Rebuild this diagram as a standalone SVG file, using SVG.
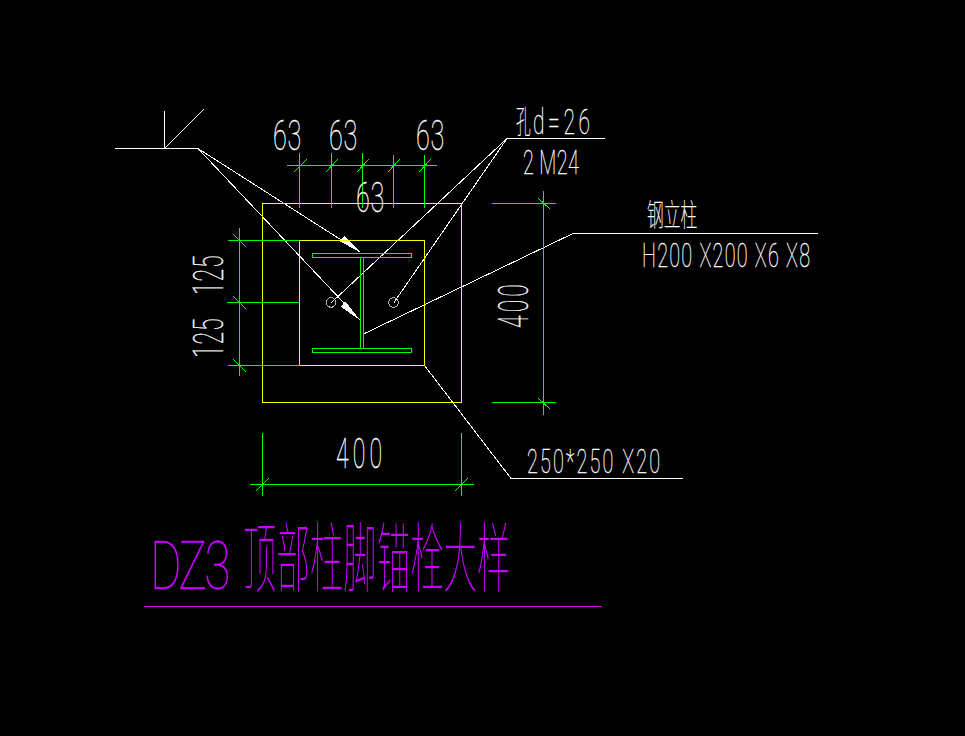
<svg xmlns="http://www.w3.org/2000/svg" width="965" height="736" viewBox="0 0 965 736">
<style>
path,rect,circle{shape-rendering:crispEdges}
.y{fill:none;stroke:#ffff00;stroke-width:1}
.g{fill:none;stroke:#00ff00;stroke-width:1}
.w{fill:none;stroke:#ffffff;stroke-width:1}
.h{fill:none;stroke:#b4b4b4;stroke-width:1}
.t{fill:#ffffff;stroke:#ffffff;stroke-width:.35;font-family:Roboto,"Liberation Sans",sans-serif;font-weight:100}
.c{fill:#ffffff;stroke:#ffffff;stroke-width:.3;font-family:"Noto Sans CJK SC",sans-serif;font-weight:100}
.p{fill:#c800ff;stroke:#c800ff;stroke-width:.3;font-family:Roboto,"Noto Sans CJK SC",sans-serif;font-weight:100}
.q{fill:#c800ff;font-family:"Noto Sans CJK SC",sans-serif;font-weight:100}
</style>
<rect width="965" height="736" fill="#000000"/>
<g id="connectors">
<path class="w" d="M115 148.500H198L360 252M198 148.500L360 320M164.500 148.500V111M164.500 148.500L204 109"/>
<path class="w" d="M605 138.500H507L331.500 302.500M507 138.500L394 302.500"/>
<path class="w" d="M363.500 334L573 233.500H818"/>
<path class="w" d="M424.500 365.500L511 478.500H683"/>
<path d="M360 252L339 241L344 236Z" fill="#ffffff"/>
<path d="M360 320L341 307L345 301Z" fill="#ffffff"/>
</g>
<g id="base-plate"><rect class="y" x="262.500" y="203.500" width="199" height="199"/></g>
<g id="top-plate"><rect class="y" x="299.500" y="240.500" width="125" height="125"/></g>
<g id="h-column">
<rect class="g" x="312.500" y="253.500" width="99" height="4"/>
<rect class="g" x="312.500" y="348.500" width="99" height="4"/>
<path class="g" d="M360.500 257.500V348.500M363.500 257.500V348.500"/>
</g>
<g id="holes"><circle class="h" cx="331" cy="302.500" r="4.800"/><circle class="h" cx="393.500" cy="302.500" r="4.800"/></g>
<g id="dim-top">
<path class="g" d="M287 165.500H437M299.500 153V208M331.500 153V208M362.500 153V208M393.500 155V208M424.500 155V208M294 172L307 159M326 172L338 159M357 172L369 159M388 172L400 159M419 172L431 159"/>
<text class="t" transform="translate(273 150) scale(.6 1)" font-size="42" textLength="47" lengthAdjust="spacing">63</text>
<text class="t" transform="translate(329 150) scale(.6 1)" font-size="42" textLength="47" lengthAdjust="spacing">63</text>
<text class="t" transform="translate(416 150) scale(.6 1)" font-size="42" textLength="47" lengthAdjust="spacing">63</text>
<text class="t" transform="translate(356 212) scale(.6 1)" font-size="42" textLength="47" lengthAdjust="spacing">63</text>
</g>
<g id="dim-left">
<path class="g" d="M239.500 228V376M228 240.500H300M227 302.500H300M228 365.500H300M233 234L246 247M233 296L246 309M233 359L246 372"/>
<text class="t" transform="translate(223 295) rotate(-90) scale(.55 1)" font-size="42" textLength="72" lengthAdjust="spacing">125</text>
<text class="t" transform="translate(223 358) rotate(-90) scale(.55 1)" font-size="42" textLength="72" lengthAdjust="spacing">125</text>
</g>
<g id="dim-right">
<path class="g" d="M543.500 191V415M492 203.500H556M492 402.500H556M538 398L550 409M538 198L550 209"/>
<text class="t" transform="translate(528 328) rotate(-90) scale(.55 1)" font-size="42" textLength="80" lengthAdjust="spacing">400</text>
</g>
<g id="dim-bottom">
<path class="g" d="M250 484.500H474M262.500 433V496M461.500 433V496M256 491L269 478M455 491L468 478"/>
<text class="t" transform="translate(336 468) scale(.55 1)" font-size="42" textLength="84" lengthAdjust="spacing">400</text>
</g>
<g id="label-hole">
<text class="c" transform="translate(516 133) scale(.46 1)" font-size="32">孔</text>
<text class="t" transform="translate(533 134) scale(.6 1)" font-size="35" textLength="95" lengthAdjust="spacing">d=26</text>
<text class="t" transform="translate(523 174) scale(.6 1)" font-size="33" textLength="93" lengthAdjust="spacing">2 M24</text>
</g>
<g id="label-column">
<text class="c" transform="translate(647 226) scale(.54 1)" font-size="31">钢立柱</text>
<text class="t" transform="translate(642 267) scale(.6 1)" font-size="33" textLength="280" lengthAdjust="spacing">H200 X200 X6 X8</text>
</g>
<g id="label-plate"><text class="t" transform="translate(527 473) scale(.6 1)" font-size="33" textLength="222" lengthAdjust="spacing">250*250 X20</text></g>
<g id="title">
<path d="M144 606.500H602" fill="none" stroke="#dc00dc" stroke-width="1"/>
<text class="p" transform="translate(150 589) scale(.72 1)" font-size="67" textLength="112" lengthAdjust="spacing">DZ3</text>
<text class="q" transform="translate(243 586) scale(.44 1)" font-size="76">顶部柱脚锚栓大样</text>
</g>
</svg>
